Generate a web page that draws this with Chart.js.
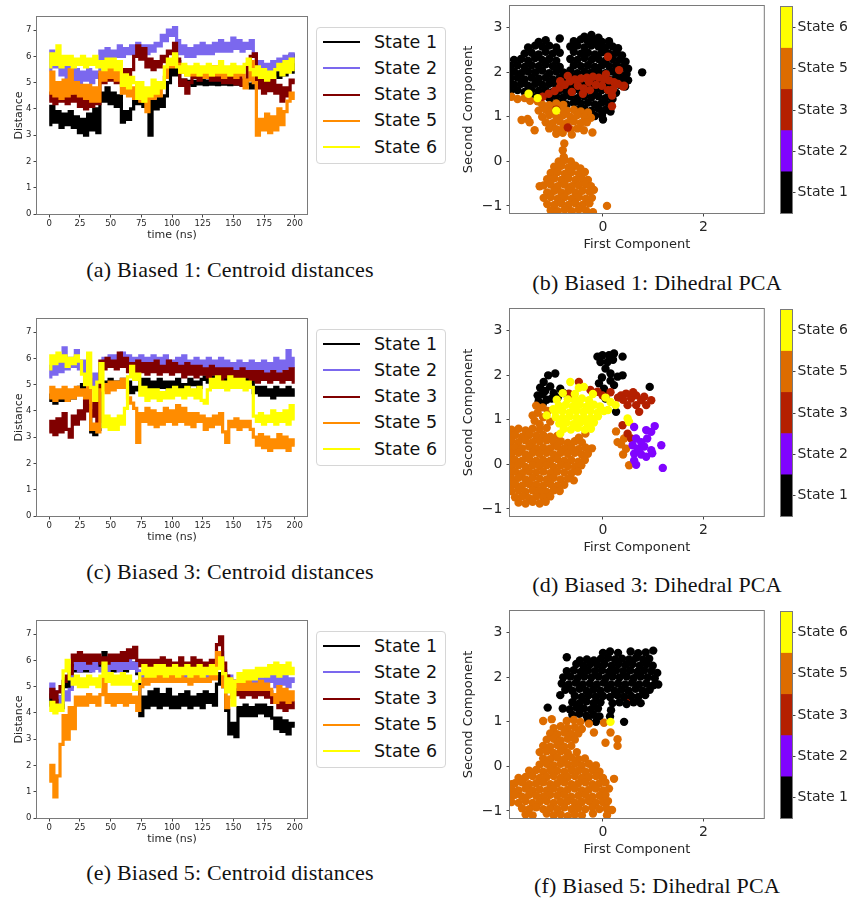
<!DOCTYPE html>
<html>
<head>
<meta charset="utf-8">
<script src="https://cdn.jsdelivr.net/npm/chart.js@4.4.1/dist/chart.umd.min.js"></script>
<style>
  body { margin: 0; background: #fff; width: 852px; height: 901px; position: relative; overflow: hidden; font-family: "DejaVu Sans"; }
  canvas { position: absolute; }
  .legend { position: absolute; left: 316px; width: 130px; height: 137px; box-sizing: border-box; border: 1px solid #d6d6d6; border-radius: 4px; background: #fff; }
  .lrow { position: absolute; left: 0; width: 100%; height: 21px; }
  .swatch { position: absolute; left: 6px; top: 9.5px; width: 37px; height: 2px; }
  .ltext { position: absolute; left: 57px; top: 0; line-height: 21px; font-size: 17.5px; color: #111; white-space: nowrap; }
  .cap { position: absolute; font-family: "Liberation Serif"; font-size: 22px; letter-spacing: 0.2px; color: #111; white-space: nowrap; transform: translate(-50%, -50%); }
</style>
</head>
<body>
<script>
// time axis (ns) and tick labels
const times = [0,2.5,5,7.5,10,12.5,15,17.5,20,22.5, 25,27.5,30,32.5,35,37.5,40,42.5,45,47.5,
  50,52.5,55,57.5,60,62.5,65,67.5,70,72.5, 75,77.5,80,82.5,85,87.5,90,92.5,95,97.5,
  100,102.5,105,107.5,110,112.5,115,117.5,120,122.5, 125,127.5,130,132.5,135,137.5,140,142.5,145,147.5,
  150,152.5,155,157.5,160,162.5,165,167.5,170,172.5, 175,177.5,180,182.5,185,187.5,190,192.5,195,197.5, 200];
const timeTicks = [0, 25, 50, 75, 100, 125, 150, 175, 200];
const distTicks = [0, 1, 2, 3, 4, 5, 6, 7];
const pcaXTicks = [0, 2];
const pcaYTicks = [-1, 0, 1, 2, 3];
const cbarTicks = [0.5, 1.5, 2.5, 3.5, 4.5];

const stateNames = ["State 1", "State 2", "State 3", "State 5", "State 6"];
const lineColors = ["#000000", "#7b68ee", "#800000", "#ff8c00", "#ffff00"];
const cmapColors = ["#000000", "#8004ff", "#b42000", "#dd6c00", "#ffff00"];

// Biased 1 centroid distances
const b1s1 = [3.4,4.1,3.5,3.9,3.3,3.8,3.4,3.9,3.3,3.7, 3.1,3.6,3.0,3.8,3.2,4.0,3.1,4.6,4.3,4.8,
  4.2,4.6,4.1,4.5,3.5,3.9,3.6,4.0,4.6,4.2, 4.7,4.1,4.4,3.0,4.3,4.0,4.4,4.1,4.5,5.0,
  5.6,5.3,5.8,5.0,5.1,4.95,5.05,4.9,5.05,4.95, 5.08,4.92,5.06,4.94,5.08,4.92,5.06,4.94,5.08,4.92,
  5.06,4.94,5.08,4.92,5.05,4.95,4.8,5.0,5.3,5.2, 5.5,5.2,5.5,5.3,5.5,5.2,5.5,5.3,5.6,6.05, 5.4];
const b1s2 = [5.5,6.2,5.6,5.9,5.3,5.7,5.2,5.6,5.1,5.5, 5.0,5.4,5.1,5.5,5.0,5.4,5.2,6.2,5.9,6.3,
  5.9,6.2,6.0,6.4,6.0,6.3,6.1,6.4,6.1,6.5, 6.2,6.4,6.1,6.4,6.2,6.5,6.4,6.8,6.6,7.0,
  6.8,7.1,6.6,6.1,6.4,6.0,6.3,6.0,6.4,6.1, 6.5,6.1,6.4,6.1,6.5,6.2,6.6,6.2,6.5,6.2,
  6.7,6.3,6.6,6.2,6.5,6.3,6.6,6.1,5.5,5.8, 5.4,5.7,5.4,5.8,5.5,5.9,5.5,6.0,5.7,6.1, 5.8];
const b1s3 = [4.3,4.6,4.2,4.7,4.3,4.6,4.2,4.5,4.3,4.6, 4.1,4.4,4.0,4.3,4.1,4.4,4.2,5.3,5.0,5.4,
  5.1,5.4,5.0,5.3,5.1,5.5,5.2,5.5,6.0,6.4, 5.9,6.3,5.6,5.9,5.5,5.8,5.6,6.0,5.8,6.2,
  6.1,6.5,5.9,4.9,5.1,4.6,5.0,5.2,5.4,5.1, 5.5,5.2,5.5,5.1,5.4,5.1,5.4,5.0,5.3,5.0,
  5.3,4.95,5.2,4.9,5.1,5.7,6.0,6.1,4.8,5.1, 4.6,5.0,4.7,5.1,4.6,4.9,4.3,4.8,4.5,5.1, 5.0];
const b1s5 = [4.6,5.4,4.5,5.0,4.4,5.1,4.5,5.5,4.6,5.0, 4.5,4.9,4.4,4.9,4.3,4.8,4.3,5.4,5.1,5.5,
  5.2,5.5,5.1,5.4,4.6,4.9,4.5,4.8,4.4,4.9, 4.3,4.7,3.9,4.6,4.4,4.9,4.5,5.0,5.2,5.7,
  5.6,6.0,5.7,5.4,5.6,5.3,5.5,5.3,5.6,5.3, 5.5,5.2,5.5,5.3,5.6,5.3,5.5,5.2,5.5,5.3,
  5.6,5.2,5.5,5.3,4.8,5.1,5.8,5.0,3.0,3.6, 3.2,3.8,3.1,3.7,3.2,4.0,3.4,3.9,4.3,4.6, 4.4];
const b1s6 = [5.6,6.1,5.7,6.4,5.6,6.0,5.7,6.0,5.6,5.9, 5.7,6.0,5.6,5.9,5.7,6.0,5.6,5.8,5.5,5.9,
  5.6,5.9,5.5,5.8,4.9,5.3,4.8,5.2,5.0,4.4, 5.0,4.3,4.8,4.5,5.1,4.6,5.0,4.8,5.6,5.9,
  5.7,6.1,5.6,5.4,5.7,5.3,5.6,5.4,5.7,5.3, 5.6,5.4,5.7,5.3,5.6,5.4,5.8,5.4,5.6,5.3,
  5.7,5.4,5.6,5.4,5.7,5.9,5.5,5.3,5.6,5.2, 5.5,5.1,5.4,5.2,5.5,5.7,5.3,5.8,5.4,5.9, 5.5];

// Biased 3 centroid distances
const b3s1 = [4.4,4.6,4.3,4.6,4.4,4.7,4.4,4.7,4.5,4.8, 4.9,5.0,4.8,4.2,3.2,3.1,3.3,4.9,5.1,5.0,
  5.2,5.0,5.1,5.0,5.2,5.0,5.1,4.7,4.9,4.8, 5.2,4.9,5.2,4.9,5.1,4.9,5.2,4.9,5.1,4.8,
  5.1,4.9,5.2,4.8,5.0,4.9,5.2,5.0,5.1,4.9, 5.2,5.3,5.1,5.3,5.1,5.3,5.1,5.3,5.2,5.4,
  5.1,5.3,5.1,5.3,5.0,5.2,5.1,4.7,4.9,4.6, 4.9,4.6,4.8,4.5,4.9,4.6,4.8,4.6,4.9,4.6, 4.8];
const b3s2 = [5.3,5.7,5.4,5.8,5.5,6.4,5.6,6.0,5.7,6.3, 5.6,5.9,5.5,5.2,4.9,5.4,5.0,5.8,6.0,5.7,
  6.1,5.8,6.1,5.9,6.2,5.9,6.1,5.8,6.0,5.7, 6.1,5.7,6.0,5.7,6.1,5.8,6.0,5.7,6.1,5.8,
  5.9,5.6,6.0,5.7,6.1,5.6,5.9,5.7,6.0,5.6, 5.9,5.7,6.0,5.6,5.9,5.7,6.0,5.6,5.9,5.5,
  5.8,5.6,5.9,5.5,5.8,5.6,5.9,5.5,5.8,5.5, 5.9,5.5,5.8,5.6,6.0,5.5,5.9,5.6,6.3,5.7, 6.0];
const b3s3 = [3.2,3.6,3.1,3.7,3.2,3.9,3.3,3.0,3.8,3.5, 4.0,3.7,4.4,4.0,3.8,4.3,3.6,5.9,5.6,6.0,
  5.7,5.9,5.6,6.2,5.7,6.0,5.5,5.8,5.4,5.9, 5.5,5.8,5.4,5.8,5.5,5.9,5.4,5.7,5.5,5.9,
  5.4,5.8,5.5,5.7,5.3,5.8,5.4,5.7,5.3,5.7, 5.4,5.6,5.3,5.7,5.4,5.6,5.2,5.6,5.3,5.6,
  5.3,5.5,5.2,5.6,5.3,5.5,5.2,5.5,5.1,5.5, 5.2,5.4,5.1,5.5,5.2,5.4,5.1,5.5,5.2,5.6, 5.1];
const b3s5 = [4.5,4.9,4.4,4.8,4.5,4.9,4.4,4.8,4.5,4.9, 4.6,4.8,4.5,5.3,3.3,3.5,3.2,4.8,5.0,4.7,
  5.1,4.8,5.1,4.9,5.2,4.9,4.5,4.3,4.1,2.8, 3.9,3.6,4.1,3.5,4.0,3.4,3.9,3.5,4.1,3.6,
  4.0,3.5,4.2,3.6,4.1,3.5,3.9,3.4,3.9,3.6, 3.8,3.3,3.7,3.4,3.8,3.5,3.9,3.2,2.8,3.6,
  3.4,3.7,3.3,3.6,3.4,3.6,3.3,3.0,2.7,3.1, 2.6,3.0,2.5,2.9,2.6,3.1,2.6,3.0,2.5,2.9, 2.7];
const b3s6 = [5.6,6.1,5.8,6.2,5.9,6.1,5.7,6.0,5.8,6.1, 5.9,5.4,5.0,6.2,4.9,4.4,5.1,5.8,3.4,3.8,
  3.3,3.7,3.3,3.8,3.5,4.1,5.3,5.7,5.2,5.4, 4.6,4.9,4.4,4.8,4.5,4.8,4.4,4.7,4.5,4.8,
  4.5,4.9,4.6,4.8,4.5,4.9,4.6,4.8,4.5,4.9, 4.4,4.3,4.8,5.2,4.9,5.3,4.9,5.1,4.8,5.3,
  4.9,5.2,4.9,5.2,4.8,5.1,4.9,3.8,3.6,3.9, 3.5,3.8,3.6,4.0,3.5,3.9,3.6,4.0,3.5,4.2, 3.7];

// Biased 5 centroid distances
const b5s1 = [4.3,4.8,4.2,4.6,4.2,5.0,5.3,5.0,5.8,5.6, 5.9,5.6,5.9,5.6,5.9,5.7,6.0,5.7,6.3,5.6,
  5.9,5.6,5.9,5.7,5.9,5.6,5.9,5.7,5.9,5.5, 3.9,4.6,4.2,4.8,4.3,4.9,4.2,4.7,4.3,4.9,
  4.2,4.6,4.2,4.7,4.3,4.8,4.2,4.6,4.3,4.7, 4.2,4.8,4.4,4.7,4.3,5.1,5.5,5.0,4.1,3.2,
  3.6,3.1,4.2,3.9,4.3,3.9,4.2,3.9,4.3,4.0, 4.3,3.9,4.2,3.8,3.4,3.8,3.3,3.7,3.2,3.6, 3.5];
const b5s2 = [4.8,5.1,4.8,4.6,4.4,4.8,4.5,4.9,5.7,5.9, 5.6,5.9,5.7,5.9,5.6,5.9,5.7,5.6,5.8,5.6,
  5.9,5.7,5.9,5.6,5.9,5.7,6.0,5.7,5.9,5.6, 5.3,5.5,5.2,5.5,5.2,5.4,5.2,5.5,5.3,5.5,
  5.2,5.5,5.3,5.5,5.2,5.5,5.3,5.5,5.2,5.5, 5.3,5.5,5.3,5.6,5.4,6.0,6.3,5.6,5.1,5.4,
  5.2,5.0,5.1,5.3,5.1,5.3,5.1,5.3,5.1,5.3, 5.1,5.4,5.2,5.4,5.0,5.4,5.1,5.4,5.0,5.3, 5.2];
const b5s3 = [4.6,4.9,4.4,4.8,5.0,5.2,5.4,5.5,6.2,6.0, 6.3,6.0,6.2,5.9,6.2,6.0,6.2,5.9,6.1,5.9,
  6.2,6.0,6.2,6.0,6.3,6.0,6.4,6.1,6.5,6.0, 5.8,6.0,5.8,6.0,5.7,6.0,5.8,6.1,5.8,6.0,
  5.7,5.9,5.8,6.1,5.8,5.9,5.7,6.1,5.8,6.0, 5.8,5.9,5.7,6.0,5.8,6.6,6.9,5.9,5.4,5.0,
  5.2,4.7,4.9,4.6,4.9,4.7,4.9,4.6,4.9,4.7, 5.0,4.6,4.8,4.4,4.7,4.2,4.5,4.1,4.5,4.2, 4.4];
const b5s5 = [1.4,2.0,0.8,1.6,2.8,3.9,3.0,4.2,3.4,4.6, 4.3,4.6,4.3,4.7,4.4,4.6,4.3,4.7,5.3,4.4,
  4.7,4.3,4.7,4.4,4.7,4.3,4.7,4.4,4.6,4.1, 5.0,5.3,5.1,5.4,5.2,5.4,5.2,5.4,5.2,5.4,
  5.2,5.4,5.2,5.4,5.2,5.3,5.1,5.4,5.2,5.4, 5.2,5.3,5.2,5.5,5.3,6.3,6.0,5.0,4.2,4.6,
  5.0,5.2,4.9,5.2,4.9,5.2,4.9,5.1,4.9,5.2, 4.9,5.1,4.9,4.7,4.4,5.0,4.5,4.9,4.4,4.8, 4.5];
const b5s6 = [4.1,4.4,4.0,4.3,4.1,5.6,6.0,5.3,5.1,5.4, 5.0,5.3,5.0,5.4,5.1,5.3,5.0,5.4,5.9,5.2,
  5.5,5.1,5.4,5.1,5.5,5.1,5.4,5.1,4.9,5.2, 5.5,5.8,5.4,5.7,5.4,5.8,5.5,5.8,5.4,5.7,
  5.5,5.8,5.4,5.7,5.5,5.8,5.4,5.7,5.5,5.8, 5.4,5.7,5.5,5.8,5.5,5.7,6.1,5.5,4.8,5.3,
  4.3,5.2,5.5,5.2,5.6,5.3,5.6,5.3,5.7,5.4, 5.7,5.4,5.8,5.5,5.9,5.4,5.8,5.5,5.9,5.5, 5.7];

// Dihedral PCA points, flat [x, y, x, y, ...] per state
const p1s1 = [-0.37,2.8,-0.23,2.84,-0.09,2.78,
  -1.28,2.68,-1.14,2.72,-0.86,2.76,-0.58,2.7,-0.44,2.74,-0.3,2.7,-0.16,2.72,-0.02,2.68,0.12,2.7,
  -1.49,2.56,-1.35,2.6,-1.21,2.58,-1.07,2.6,-0.93,2.56,-0.65,2.58,-0.51,2.6,-0.37,2.56,-0.23,2.6,-0.09,2.58,0.05,2.56,0.19,2.58,0.3,2.54,
  -1.56,2.42,-1.42,2.44,-1.28,2.4,-1.14,2.46,-1.0,2.42,-0.86,2.44,-0.58,2.46,-0.44,2.42,-0.3,2.44,-0.16,2.4,-0.02,2.45,0.12,2.42,0.26,2.44,0.38,2.38,
  -1.77,2.28,-1.63,2.3,-1.49,2.26,-1.35,2.32,-1.21,2.28,-1.07,2.3,-0.93,2.26,-0.65,2.3,-0.51,2.28,-0.37,2.32,-0.23,2.28,-0.09,2.3,0.05,2.26,0.19,2.3,0.33,2.28,0.45,2.24,
  -1.84,2.14,-1.7,2.16,-1.56,2.12,-1.42,2.16,-1.28,2.14,-1.14,2.18,-1.0,2.14,-0.86,2.12,-0.58,2.16,-0.44,2.14,-0.3,2.16,-0.16,2.12,-0.02,2.16,0.12,2.14,0.26,2.16,0.4,2.12,0.5,2.08,
  -1.84,1.98,-1.77,2.02,-1.63,1.98,-1.49,2.02,-1.35,2.0,-1.21,2.04,-1.07,1.98,-0.93,2.02,-0.79,2.0,-0.65,2.04,-0.51,1.98,-0.37,2.02,-0.23,2.0,-0.09,2.02,0.05,1.98,0.19,2.02,0.33,2.0,0.47,1.96,0.78,2.0,
  -1.84,1.86,-1.7,1.88,-1.56,1.84,-1.42,1.88,-1.28,1.86,-1.14,1.88,-1.0,1.84,-0.86,1.88,-0.72,1.86,-0.58,1.9,-0.44,1.84,-0.3,1.88,-0.16,1.86,-0.02,1.88,0.12,1.84,0.26,1.88,0.4,1.86,0.5,1.82,
  -1.84,1.7,-1.77,1.72,-1.63,1.74,-1.49,1.7,-1.35,1.74,-1.21,1.72,-1.07,1.74,-0.93,1.7,-0.79,1.74,-0.65,1.72,-0.51,1.74,-0.37,1.7,-0.23,1.74,-0.09,1.72,0.05,1.74,0.19,1.7,0.33,1.72,0.44,1.68,
  -1.84,1.58,-1.7,1.6,-1.56,1.56,-1.42,1.6,-1.28,1.58,-1.14,1.6,-1.0,1.56,-0.86,1.6,-0.72,1.58,-0.58,1.6,-0.44,1.56,-0.3,1.6,-0.16,1.58,-0.02,1.6,0.12,1.56,0.26,1.54,
  -1.35,1.44,-1.21,1.46,-1.07,1.42,-0.93,1.46,-0.79,1.44,-0.65,1.46,-0.51,1.42,-0.37,1.46,-0.23,1.44,-0.09,1.46,0.05,1.42,0.19,1.4,
  -1.0,1.3,-0.86,1.32,-0.72,1.28,-0.58,1.32,-0.44,1.3,-0.3,1.32,-0.16,1.28,-0.02,1.32,0.12,1.28,
  -0.51,1.16,-0.37,1.18,-0.23,1.14,-0.09,1.18,0.05,1.16,0.15,1.12,
  -0.3,1.04,-0.16,1.02,-0.02,1.04,0.0,0.94];
const p1s2 = [];
const p1s3 = [-1.2,1.45,-1.08,1.52,-0.96,1.58,-0.86,1.66,-0.76,1.72,-0.66,1.8,-0.56,1.84,-0.44,1.86,-0.32,1.88,-0.2,1.9,
  -0.08,1.88,0.02,1.85,0.12,1.82,0.22,1.78,0.3,1.74,0.4,1.68,-0.5,1.7,-0.38,1.64,-0.26,1.6,-0.14,1.72,
  -0.02,1.7,0.1,1.6,0.18,1.48,0.2,1.62,0.1,2.35,0.42,1.7,0.18,1.24,-0.93,1.16,-0.7,0.76,-0.62,1.56,
  -0.4,1.52,-0.28,1.78,0.06,1.96,-0.7,1.92,-0.85,1.8,0.32,2.05];
const p1s5 = [-1.82,1.45,-1.7,1.4,-1.56,1.42,-1.45,1.36,-1.3,1.35,
  -1.21,1.28,-1.07,1.26,-0.93,1.3,-0.79,1.27,
  -1.28,1.14,-1.14,1.16,-1.0,1.12,-0.86,1.18,-0.72,1.14,-0.58,1.16,-0.44,1.12,-0.3,1.1,
  -1.21,1.0,-1.07,1.04,-0.93,1.0,-0.79,1.04,-0.65,1.0,-0.51,1.04,-0.37,1.0,-0.24,0.98,
  -1.14,0.88,-1.0,0.86,-0.86,0.9,-0.72,0.86,-0.58,0.9,-0.44,0.86,-0.32,0.88,
  -1.07,0.74,-0.93,0.72,-0.79,0.76,-0.65,0.72,-0.51,0.74,-0.38,0.7,
  -0.93,0.62,-0.8,0.64,-0.62,0.6,
  -1.62,0.93,-1.5,0.95,-1.46,0.88,-1.36,0.7,-0.21,0.65,-0.77,0.4,-0.8,0.25,-0.78,0.1,
  -0.88,0.0,-0.76,0.03,-0.64,0.0,
  -0.97,-0.12,-0.83,-0.1,-0.69,-0.14,-0.55,-0.1,-0.45,-0.16,
  -1.04,-0.26,-0.9,-0.24,-0.76,-0.28,-0.62,-0.24,-0.48,-0.28,-0.36,-0.24,
  -1.11,-0.4,-0.97,-0.38,-0.83,-0.42,-0.69,-0.38,-0.55,-0.42,-0.41,-0.4,-0.3,-0.42,
  -1.26,-0.56,-1.18,-0.54,-1.04,-0.52,-0.9,-0.56,-0.76,-0.52,-0.62,-0.56,-0.48,-0.54,-0.34,-0.52,-0.24,-0.56,
  -1.11,-0.7,-0.97,-0.66,-0.83,-0.7,-0.69,-0.66,-0.55,-0.7,-0.41,-0.66,-0.27,-0.68,-0.18,-0.64,
  -1.18,-0.82,-1.04,-0.8,-0.9,-0.84,-0.76,-0.8,-0.62,-0.84,-0.48,-0.8,-0.34,-0.84,-0.22,-0.82,
  -1.11,-0.96,-0.97,-0.98,-0.83,-0.94,-0.69,-0.98,-0.55,-0.94,-0.41,-0.98,-0.27,-0.94,0.08,-1.0,
  -1.04,-1.1,-0.9,-1.12,-0.76,-1.08,-0.62,-1.12,-0.48,-1.08,-0.34,-1.1,-0.2,-1.14];
const p1s6 = [-1.48,1.52,-0.93,1.14,-1.3,1.42];

const p3s1 = [-1.09,2.0,-0.95,2.04,-1.18,1.85,-1.25,1.72,-1.2,1.58,-1.28,1.42,-1.12,1.45,-0.98,1.6,-0.85,1.7,-0.78,1.6,
  -1.05,1.75,-1.15,1.65,-1.02,1.48,-0.9,1.5,-1.3,1.55,-1.2,1.35,
  -0.11,2.42,-0.01,2.45,0.12,2.45,0.22,2.49,0.39,2.42,0.09,2.3,0.05,2.15,0.15,2.04,0.29,1.97,0.39,2.0,
  -0.08,1.82,0.02,1.7,0.08,1.6,0.22,1.78,0.15,1.88,0.93,1.74,0.26,1.18,0.05,1.48,-0.05,2.3,0.2,2.35,-0.02,1.95];
const p3s2 = [0.62,0.84,0.86,0.77,1.03,0.86,0.96,0.73,0.66,0.58,0.76,0.5,0.88,0.58,0.59,0.43,0.69,0.35,0.82,0.4,
  0.96,0.32,1.16,0.43,0.62,0.24,0.76,0.22,0.86,0.17,0.98,0.25,0.62,0.09,0.66,-0.01,1.19,-0.08,0.72,0.3];
const p3s3 = [-0.48,1.85,-0.68,1.59,-0.58,1.55,-0.25,1.67,-0.11,1.63,-0.01,1.55,0.15,1.62,0.36,1.55,0.46,1.59,0.56,1.48,
  0.66,1.55,0.76,1.44,0.96,1.44,0.86,1.33,0.66,1.33,0.49,1.33,0.72,1.18,0.39,0.88,0.49,0.69,0.56,0.58,
  0.4,1.45,0.6,1.62,0.82,1.52,0.3,1.5];
const p3s5 = [-1.82,0.78,-1.68,0.8,-1.54,0.76,-1.4,0.8,-1.26,0.78,-1.12,0.82,
  -1.82,0.64,-1.75,0.66,-1.61,0.62,-1.47,0.66,-1.33,0.64,-1.19,0.66,-1.05,0.62,-0.91,0.64,
  -1.82,0.52,-1.68,0.5,-1.54,0.54,-1.4,0.5,-1.26,0.52,-1.12,0.54,-0.98,0.5,-0.84,0.52,-0.7,0.48,-0.56,0.52,-0.42,0.49,
  -1.82,0.36,-1.75,0.38,-1.61,0.36,-1.47,0.4,-1.33,0.36,-1.19,0.38,-1.05,0.36,-0.91,0.4,-0.77,0.36,-0.63,0.38,-0.49,0.34,-0.35,0.38,-0.22,0.36,
  -1.82,0.24,-1.68,0.26,-1.54,0.22,-1.4,0.26,-1.26,0.24,-1.12,0.26,-0.98,0.22,-0.84,0.26,-0.7,0.24,-0.56,0.26,-0.42,0.22,-0.3,0.24,
  -1.82,0.08,-1.75,0.1,-1.61,0.08,-1.47,0.12,-1.33,0.08,-1.19,0.1,-1.05,0.08,-0.91,0.12,-0.77,0.08,-0.63,0.1,-0.49,0.06,-0.36,0.1,
  -1.82,-0.04,-1.68,-0.02,-1.54,-0.06,-1.4,-0.02,-1.26,-0.04,-1.12,-0.02,-0.98,-0.06,-0.84,-0.02,-0.7,-0.04,-0.56,-0.06,-0.43,-0.02,
  -1.82,-0.18,-1.75,-0.16,-1.61,-0.2,-1.47,-0.16,-1.33,-0.18,-1.19,-0.16,-1.05,-0.2,-0.91,-0.16,-0.77,-0.18,-0.63,-0.2,-0.5,-0.16,
  -1.82,-0.32,-1.68,-0.3,-1.54,-0.34,-1.4,-0.3,-1.26,-0.32,-1.12,-0.34,-0.98,-0.3,-0.84,-0.34,-0.7,-0.32,-0.58,-0.36,
  -1.82,-0.46,-1.75,-0.44,-1.61,-0.48,-1.47,-0.44,-1.33,-0.46,-1.19,-0.48,-1.05,-0.44,-0.91,-0.48,-0.77,-0.46,
  -1.82,-0.6,-1.68,-0.58,-1.54,-0.62,-1.4,-0.58,-1.26,-0.6,-1.12,-0.62,-0.98,-0.58,-0.86,-0.6,
  -1.75,-0.74,-1.61,-0.72,-1.47,-0.76,-1.33,-0.72,-1.19,-0.74,-1.05,-0.72,
  -1.68,-0.86,-1.54,-0.88,-1.4,-0.84,-1.26,-0.88,-1.14,-0.84,
  -1.33,1.32,-1.2,1.28,-1.1,1.2,-1.3,1.16,-1.19,1.06,-1.05,0.96,-1.36,0.98,-1.26,0.9,-1.4,1.1,
  0.26,0.74,0.29,0.5,0.42,0.58,0.46,0.35,0.52,-0.02,0.36,0.45,0.4,0.22,-0.35,0.69,-0.48,0.6];
const p3s6 = [-0.7,1.46,-0.56,1.44,-0.42,1.48,-0.28,1.44,
  -0.88,1.32,-0.74,1.34,-0.6,1.3,-0.46,1.34,-0.32,1.3,-0.18,1.34,-0.06,1.3,
  -0.95,1.18,-0.81,1.2,-0.67,1.16,-0.53,1.2,-0.39,1.18,-0.25,1.2,-0.11,1.16,0.02,1.2,
  -0.94,1.06,-0.8,1.04,-0.66,1.08,-0.52,1.04,-0.38,1.06,-0.24,1.04,-0.1,1.08,
  -0.87,0.92,-0.73,0.94,-0.59,0.9,-0.45,0.94,-0.31,0.92,-0.18,0.94,
  -0.78,0.8,-0.64,0.78,-0.5,0.82,-0.36,0.78,-0.24,0.8,
  -0.65,1.85,-0.48,1.72,-0.38,1.74,-0.8,1.6,-0.56,1.58,0.15,1.4,0.25,1.33,0.49,1.03,0.52,0.95,-0.99,1.24,
  -1.12,1.1,-0.85,0.69,0.1,1.22,0.05,1.5,-0.2,1.58,-0.92,1.45];

const p5s1 = [0.0,2.55,0.14,2.58,0.3,2.55,0.55,2.58,0.7,2.54,0.85,2.56,1.0,2.6,
  -0.72,2.45,-0.46,2.38,-0.32,2.4,-0.18,2.38,-0.04,2.42,0.1,2.44,0.24,2.4,0.38,2.42,0.52,2.4,0.66,2.44,0.8,2.4,0.92,2.42,
  -0.53,2.3,-0.39,2.26,-0.25,2.3,-0.11,2.28,0.03,2.3,0.17,2.26,0.31,2.3,0.45,2.28,0.59,2.3,0.73,2.26,0.87,2.3,0.99,2.26,
  -0.72,2.14,-0.58,2.16,-0.44,2.12,-0.3,2.16,-0.16,2.14,-0.02,2.16,0.12,2.12,0.26,2.16,0.4,2.14,0.54,2.16,0.68,2.12,0.82,2.16,0.96,2.14,1.08,2.1,
  -0.79,2.0,-0.65,2.02,-0.51,1.98,-0.37,2.02,-0.23,2.0,-0.09,2.02,0.05,1.98,0.19,2.02,0.33,2.0,0.47,2.02,0.61,1.98,0.75,2.02,0.89,2.0,1.03,1.98,
  -0.82,1.86,-0.68,1.84,-0.54,1.88,-0.4,1.84,-0.26,1.86,-0.12,1.84,0.02,1.88,0.16,1.84,0.3,1.86,0.44,1.84,0.58,1.88,0.72,1.84,0.86,1.86,1.0,1.82,1.1,1.84,
  -0.75,1.72,-0.61,1.7,-0.47,1.74,-0.33,1.7,-0.19,1.72,-0.05,1.7,0.09,1.74,0.23,1.7,0.37,1.72,0.51,1.7,0.65,1.74,0.79,1.7,0.93,1.72,
  -0.85,1.6,-0.56,1.58,-0.42,1.56,-0.28,1.6,-0.14,1.56,0.0,1.58,0.14,1.56,0.28,1.6,0.42,1.56,0.56,1.58,0.7,1.56,0.84,1.6,
  -0.61,1.44,-0.47,1.42,-0.33,1.46,-0.19,1.42,-0.05,1.44,0.19,1.42,0.33,1.44,0.47,1.4,0.61,1.44,0.75,1.42,
  -1.1,1.32,-0.8,1.3,-0.66,1.28,-0.52,1.32,-0.38,1.3,-0.24,1.28,-0.1,1.3,0.16,1.26,
  -0.61,1.16,-0.47,1.18,-0.33,1.14,-0.19,1.16,-0.07,1.12,0.14,1.12,
  -0.3,1.04,-0.14,1.0,0.42,1.0];
const p5s2 = [];
const p5s3 = [0.52,1.5];
const p5s5 = [-1.19,1.02,-1.02,1.06,-0.72,1.02,-0.58,1.04,-0.45,1.0,-0.28,0.96,-0.18,0.76,0.02,0.98,0.15,0.76,0.29,0.61,0.29,0.46,0.05,0.53,
  -0.98,0.86,-0.84,0.9,-0.7,0.86,-0.56,0.88,-0.42,0.84,
  -1.05,0.74,-0.91,0.72,-0.77,0.76,-0.63,0.72,-0.49,0.74,
  -1.12,0.6,-0.98,0.62,-0.84,0.58,-0.7,0.62,-0.56,0.6,
  -1.19,0.46,-1.05,0.44,-0.91,0.48,-0.77,0.44,-0.63,0.46,-0.52,0.32,
  -1.26,0.32,-1.12,0.34,-0.98,0.3,-0.84,0.34,-0.7,0.3,
  -1.19,0.18,-1.05,0.16,-0.91,0.2,-0.77,0.16,-0.63,0.2,-0.49,0.16,-0.36,0.18,
  -1.26,0.04,-1.12,0.06,-0.98,0.02,-0.84,0.06,-0.7,0.04,-0.56,0.06,-0.42,0.02,-0.28,0.06,-0.14,0.02,
  -1.47,-0.1,-1.33,-0.08,-1.19,-0.12,-1.05,-0.08,-0.91,-0.1,-0.77,-0.12,-0.63,-0.08,-0.49,-0.1,-0.35,-0.12,-0.21,-0.08,-0.07,-0.12,
  -1.68,-0.26,-1.54,-0.24,-1.4,-0.22,-1.26,-0.26,-1.12,-0.24,-0.98,-0.22,-0.84,-0.26,-0.7,-0.24,-0.56,-0.22,-0.42,-0.26,-0.28,-0.24,-0.14,-0.22,0.0,-0.26,0.22,-0.28,
  -1.82,-0.4,-1.75,-0.38,-1.61,-0.36,-1.47,-0.4,-1.33,-0.38,-1.19,-0.36,-1.05,-0.4,-0.91,-0.38,-0.77,-0.36,-0.63,-0.4,-0.49,-0.38,-0.35,-0.36,-0.21,-0.4,-0.07,-0.38,0.05,-0.36,
  -1.82,-0.52,-1.68,-0.54,-1.54,-0.5,-1.4,-0.54,-1.26,-0.52,-1.12,-0.54,-0.98,-0.5,-0.84,-0.54,-0.7,-0.52,-0.56,-0.5,-0.42,-0.54,-0.28,-0.52,-0.14,-0.5,0.0,-0.54,0.12,-0.5,
  -1.82,-0.66,-1.75,-0.64,-1.61,-0.68,-1.47,-0.64,-1.33,-0.66,-1.19,-0.68,-1.05,-0.64,-0.91,-0.66,-0.77,-0.64,-0.63,-0.68,-0.49,-0.66,-0.35,-0.64,-0.21,-0.68,-0.07,-0.66,0.05,-0.64,
  -1.82,-0.8,-1.68,-0.82,-1.54,-0.78,-1.4,-0.82,-1.26,-0.8,-1.12,-0.78,-0.98,-0.82,-0.84,-0.8,-0.7,-0.78,-0.56,-0.82,-0.42,-0.8,-0.28,-0.78,-0.14,-0.82,0.0,-0.8,0.1,-0.78,
  -1.61,-0.94,-1.47,-0.96,-1.33,-0.92,-1.19,-0.96,-1.05,-0.94,-0.91,-0.96,-0.77,-0.92,-0.63,-0.96,-0.49,-0.94,-0.35,-0.96,-0.21,-0.92,-0.07,-0.96,0.07,-0.94,0.18,-0.98,
  -1.54,-1.08,-1.4,-1.1,-1.12,-1.06,-0.98,-1.1,-0.84,-1.08,-0.7,-1.12,-0.56,-1.08,-0.42,-1.1,-0.2,-1.06,0.08,-1.1];
const p5s6 = [0.15,1.0];

const ink = "#262626";
const sans = "DejaVu Sans";

// matplotlib-style box round each plot area
const frame = {
  id: "frame",
  afterDatasetsDraw(chart) {
    const { ctx, chartArea: a } = chart;
    ctx.save();
    ctx.strokeStyle = "#7a7a7a";
    ctx.lineWidth = 1;
    ctx.strokeRect(a.left - 0.5, a.top - 0.5, a.right - a.left + 1, a.bottom - a.top + 1);
    ctx.restore();
  }
};

function addCanvas(left, top, w, h) {
  const c = document.createElement("canvas");
  c.width = w; c.height = h;
  c.style.left = left + "px"; c.style.top = top + "px";
  c.style.width = w + "px"; c.style.height = h + "px";
  document.body.appendChild(c);
  return c;
}

function tickGrid() {
  return { drawOnChartArea: false, drawTicks: true, tickLength: 3.5, color: "#444", lineWidth: 1 };
}

function fixTicks(values) {
  return s => { s.ticks = values.map(v => ({ value: v })); };
}

function fitX(h) {
  return s => { s.height = h; s.paddingLeft = 0; s.paddingRight = 0; };
}

function fitY(w) {
  return s => { s.width = w; s.paddingTop = 0; s.paddingBottom = 0; };
}

const minus = v => (v < 0 ? "\u2212" + (-v) : String(v));

function distanceChart(top, series) {
  const c = addCanvas(0, top, 310, 250);
  new Chart(c, {
    type: "line",
    data: {
      datasets: series.map((s, k) => ({
        label: stateNames[k],
        data: times.map((t, i) => ({ x: t, y: s[i] })),
        borderColor: lineColors[k],
        borderWidth: 3.2,
        stepped: "middle",
        pointRadius: 0,
        order: 5 - k,
        clip: 0
      }))
    },
    options: {
      responsive: false, animation: false, devicePixelRatio: 1,
      layout: { padding: { top: 17, right: 3, left: 0, bottom: 0 } },
      plugins: { legend: { display: false }, tooltip: { enabled: false } },
      scales: {
        x: {
          type: "linear", min: -10, max: 210,
          afterBuildTicks: fixTicks(timeTicks), afterFit: fitX(36),
          grid: tickGrid(), border: { display: false },
          ticks: { font: { family: sans, size: 8.5 }, color: ink, padding: 1, maxRotation: 0, autoSkip: false, callback: v => String(v) },
          title: { display: true, text: "time (ns)", font: { family: sans, size: 11 }, color: ink, padding: { top: 0, bottom: 8 } }
        },
        y: {
          type: "linear", min: 0, max: 7.5,
          afterBuildTicks: fixTicks(distTicks), afterFit: fitY(37),
          grid: tickGrid(), border: { display: false },
          ticks: { font: { family: sans, size: 8.5 }, color: ink, padding: 2, autoSkip: false, callback: v => String(v) },
          title: { display: true, text: "Distance", font: { family: sans, size: 11 }, color: ink, padding: { top: 13, bottom: 0 } }
        }
      }
    },
    plugins: [frame]
  });
}

// drawOrder: lower number is drawn later (on top); one entry per state
function pcaChart(top, groups, drawOrder) {
  const c = addCanvas(452, top, 316, 262);
  new Chart(c, {
    type: "scatter",
    data: {
      datasets: groups.map((g, k) => {
        const pts = [];
        for (let i = 0; i + 1 < g.length; i += 2) pts.push({ x: g[i], y: g[i + 1] });
        return {
          label: stateNames[k], data: pts,
          backgroundColor: cmapColors[k], borderWidth: 0, pointBorderWidth: 0,
          pointRadius: 4.2, pointHoverRadius: 4.2,
          order: drawOrder[k], clip: 0
        };
      })
    },
    options: {
      responsive: false, animation: false, devicePixelRatio: 1,
      layout: { padding: { top: 6, right: 3, left: 0, bottom: 0 } },
      plugins: { legend: { display: false }, tooltip: { enabled: false } },
      scales: {
        x: {
          type: "linear", min: -1.85, max: 3.2,
          afterBuildTicks: fixTicks(pcaXTicks), afterFit: fitX(49),
          grid: tickGrid(), border: { display: false },
          ticks: { font: { family: sans, size: 14 }, color: ink, padding: 2, maxRotation: 0, autoSkip: false, callback: minus },
          title: { display: true, text: "First Component", font: { family: sans, size: 13 }, color: ink, padding: { top: 0, bottom: 10 } }
        },
        y: {
          type: "linear", min: -1.16, max: 3.49,
          afterBuildTicks: fixTicks(pcaYTicks), afterFit: fitY(58),
          grid: tickGrid(), border: { display: false },
          ticks: { font: { family: sans, size: 14 }, color: ink, padding: 4, autoSkip: false, callback: minus },
          title: { display: true, text: "Second Component", font: { family: sans, size: 13 }, color: ink, padding: { top: 9, bottom: 0 } }
        }
      }
    },
    plugins: [frame]
  });
}

function colorbar(top) {
  const c = addCanvas(778, top, 74, 220);
  new Chart(c, {
    type: "bar",
    data: {
      labels: [""],
      datasets: stateNames.map((n, k) => ({
        label: n, data: [1], backgroundColor: cmapColors[k],
        borderWidth: 0, barPercentage: 1, categoryPercentage: 1
      }))
    },
    options: {
      responsive: false, animation: false, devicePixelRatio: 1,
      layout: { padding: { top: 7, bottom: 7, left: 3, right: 0 } },
      plugins: { legend: { display: false }, tooltip: { enabled: false } },
      scales: {
        x: { stacked: true, display: false },
        y: {
          stacked: true, position: "right", min: 0, max: 5,
          afterBuildTicks: fixTicks(cbarTicks), afterFit: fitY(60),
          grid: tickGrid(), border: { display: false },
          ticks: { font: { family: sans, size: 14 }, color: ink, padding: 2, autoSkip: false, callback: v => stateNames[Math.floor(v)] }
        }
      }
    },
    plugins: [frame]
  });
}

function addLegend(top) {
  const box = document.createElement("div");
  box.className = "legend";
  box.style.top = top + "px";
  stateNames.forEach((name, k) => {
    const row = document.createElement("div");
    row.className = "lrow";
    row.style.top = (3.5 + 26.3 * k) + "px";
    const sw = document.createElement("span");
    sw.className = "swatch";
    sw.style.background = lineColors[k];
    const tx = document.createElement("span");
    tx.className = "ltext";
    tx.textContent = name;
    row.appendChild(sw); row.appendChild(tx);
    box.appendChild(row);
  });
  document.body.appendChild(box);
}

function addCaption(text, cx, cy) {
  const d = document.createElement("div");
  d.className = "cap";
  d.style.left = cx + "px"; d.style.top = cy + "px";
  d.textContent = text;
  document.body.appendChild(d);
}

distanceChart(0, [b1s1, b1s2, b1s3, b1s5, b1s6]);
distanceChart(302, [b3s1, b3s2, b3s3, b3s5, b3s6]);
distanceChart(604, [b5s1, b5s2, b5s3, b5s5, b5s6]);
addLegend(27); addLegend(329); addLegend(631);

pcaChart(0, [p1s1, p1s2, p1s3, p1s5, p1s6], [5, 1, 3, 4, 2]);
pcaChart(303, [p3s1, p3s2, p3s3, p3s5, p3s6], [5, 1, 3, 4, 2]);
pcaChart(605, [p5s1, p5s2, p5s3, p5s5, p5s6], [4, 1, 5, 3, 2]);
colorbar(0); colorbar(303); colorbar(605);

addCaption("(a) Biased 1: Centroid distances", 230, 270);
addCaption("(b) Biased 1: Dihedral PCA", 657, 283);
addCaption("(c) Biased 3: Centroid distances", 230, 572);
addCaption("(d) Biased 3: Dihedral PCA", 657, 585);
addCaption("(e) Biased 5: Centroid distances", 230, 873);
addCaption("(f) Biased 5: Dihedral PCA", 657, 886);
</script>
</body>
</html>
